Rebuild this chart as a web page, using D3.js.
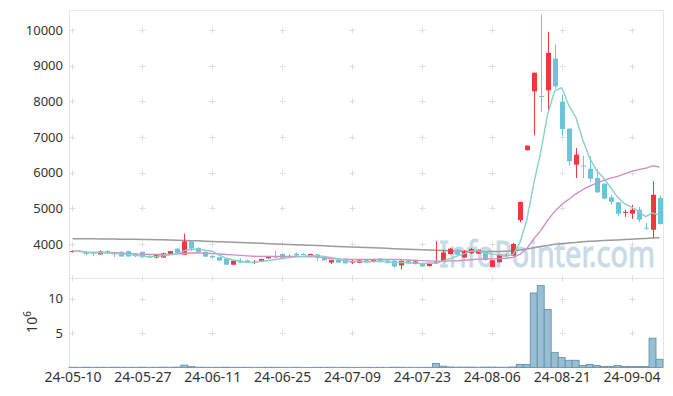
<!DOCTYPE html>
<html>
<meta charset="utf-8">
<style>
body { margin: 0; background: #fff; }
svg { display: block; font-family: "Noto Sans", sans-serif; }
.frame { fill: none; stroke: #e6e6e6; stroke-width: 1; }
.cross { stroke: #dedede; stroke-width: 1; }
.ma { fill: none; stroke-linejoin: round; }
</style>
<body>
<svg width="673" height="396"></svg>
<script src="https://cdn.jsdelivr.net/npm/d3@7"></script>
<script>

// trading days shown on the chart
var dates = [
  "24-05-10","24-05-13","24-05-14","24-05-16","24-05-17","24-05-20","24-05-21","24-05-22","24-05-23","24-05-24",
  "24-05-27","24-05-28","24-05-29","24-05-30","24-05-31","24-06-03","24-06-04","24-06-05","24-06-07","24-06-10",
  "24-06-11","24-06-12","24-06-13","24-06-14","24-06-17","24-06-18","24-06-19","24-06-20","24-06-21","24-06-24",
  "24-06-25","24-06-26","24-06-27","24-06-28","24-07-01","24-07-02","24-07-03","24-07-04","24-07-05","24-07-08",
  "24-07-09","24-07-10","24-07-11","24-07-12","24-07-15","24-07-16","24-07-17","24-07-18","24-07-19","24-07-22",
  "24-07-23","24-07-24","24-07-25","24-07-26","24-07-29","24-07-30","24-07-31","24-08-01","24-08-02","24-08-05",
  "24-08-06","24-08-07","24-08-08","24-08-09","24-08-12","24-08-13","24-08-14","24-08-16","24-08-19","24-08-20",
  "24-08-21","24-08-22","24-08-23","24-08-26","24-08-27","24-08-28","24-08-29","24-08-30","24-09-02","24-09-03",
  "24-09-04","24-09-05","24-09-06","24-09-09","24-09-10"
];

var open = [
  3790,3810,3780,3760,3710,3800,3770,3780,3800,3720,
  3780,3660,3620,3620,3710,3870,3700,4075,3890,3780,
  3660,3630,3590,3420,3535,3540,3490,3500,3600,3660,
  3720,3640,3730,3720,3680,3710,3630,3480,3550,3540,
  3495,3470,3550,3500,3580,3540,3530,3400,3530,3440,
  3470,3380,3480,3510,3720,3840,3620,3740,3730,3790,
  3355,3490,3670,3670,4670,6630,8280,8150,8310,9200,
  7980,7235,6225,6200,6110,5850,5690,5310,5170,4880,
  4850,4960,4460,4400,5290
];
var high = [
  3830,3830,3800,3780,3820,3830,3790,3800,3810,3740,
  3790,3680,3720,3760,3810,3880,4290,4090,3910,3790,
  3690,3640,3600,3540,3600,3560,3550,3590,3660,3800,
  3740,3700,3760,3740,3730,3720,3640,3560,3560,3550,
  3560,3550,3560,3560,3600,3560,3540,3540,3540,3520,
  3480,3480,4080,3830,3890,3860,3830,3890,3850,3800,
  3560,3710,3720,4030,5190,6760,8810,10430,9950,9590,
  8190,7240,6690,6480,6460,6100,5700,5380,5170,4960,
  5100,5040,4590,5760,5360
];
var low = [
  3760,3780,3680,3660,3700,3730,3630,3650,3650,3630,
  3600,3610,3600,3610,3700,3740,3700,3800,3760,3640,
  3590,3530,3420,3410,3470,3470,3440,3490,3590,3610,
  3580,3600,3670,3690,3670,3530,3530,3440,3470,3450,
  3440,3460,3480,3490,3490,3460,3330,3290,3450,3430,
  3360,3370,3440,3500,3700,3680,3610,3720,3720,3530,
  3340,3480,3640,3660,4610,6620,7050,7700,7720,8350,
  7050,6200,5850,5850,5730,5430,5260,5100,4780,4760,
  4700,4610,4400,4170,4540
];
var close = [
  3800,3790,3720,3730,3790,3740,3710,3650,3650,3660,
  3630,3620,3710,3740,3800,3750,4075,3870,3780,3645,
  3620,3535,3420,3535,3480,3480,3500,3580,3650,3620,
  3590,3655,3680,3700,3720,3620,3540,3550,3480,3460,
  3505,3540,3490,3550,3500,3470,3370,3530,3460,3510,
  3370,3470,3490,3760,3870,3700,3790,3860,3840,3550,
  3545,3700,3690,4000,5180,6760,8800,8130,9360,8420,
  7225,6320,6505,6190,5830,5450,5270,5180,4850,4900,
  4960,4680,4440,5380,4560
];

// long moving average (grey line)
var maLong = [
  4150,4148,4146,4144,4142,4140,4138,4135,4132,4130,
  4127,4124,4120,4116,4112,4106,4100,4094,4088,4080,
  4072,4064,4056,4048,4040,4032,4025,4018,4010,4002,
  3995,3988,3980,3972,3964,3956,3948,3940,3932,3924,
  3916,3908,3900,3892,3885,3878,3870,3862,3855,3848,
  3840,3832,3825,3818,3812,3806,3800,3796,3792,3790,
  3790,3792,3798,3808,3830,3860,3895,3930,3960,3990,
  4010,4030,4045,4060,4075,4085,4095,4105,4115,4125,
  4135,4145,4155,4165,4175
];

// volume in millions of shares
var volume = [
  0.04,0.03,0.05,0.03,0.04,0.03,0.05,0.04,0.03,0.03,
  0.05,0.03,0.04,0.05,0.04,0.06,0.35,0.12,0.05,0.04,
  0.03,0.04,0.05,0.03,0.03,0.03,0.02,0.03,0.04,0.03,
  0.03,0.02,0.03,0.02,0.02,0.03,0.03,0.04,0.02,0.03,
  0.02,0.02,0.03,0.02,0.03,0.02,0.05,0.04,0.03,0.02,
  0.03,0.03,0.60,0.20,0.08,0.05,0.05,0.06,0.04,0.06,
  0.06,0.05,0.04,0.08,0.45,0.45,10.8,11.9,8.4,2.2,
  1.45,1.05,1.05,0.30,0.45,0.30,0.15,0.15,0.30,0.15,
  0.15,0.15,0.15,4.25,1.2
];

var priceTicks = [4000, 5000, 6000, 7000, 8000, 9000, 10000];
var volTicks = [5, 10];
var dateTickIdx = [0, 10, 20, 30, 40, 50, 60, 70, 80];

var svg = d3.select("svg");
var pLeft = 69, pRight = 663, pTop = 10, pSplit = 278, pBottom = 367.5;

var x = d3.scaleLinear().domain([-0.5, dates.length - 0.5]).range([pLeft, pRight]);
var y = d3.scaleLinear().domain([4000, 10000]).range([244, 30]);
var yv = d3.scaleLinear().domain([0, 10]).range([pBottom, 298.5]);

function movingAvg(vals, n) {
  return vals.map(function(v, i) { return d3.mean(vals.slice(Math.max(0, i - n + 1), i + 1)); });
}
var ma5 = movingAvg(close, 5);
var ma20 = movingAvg(close, 20);

svg.append("clipPath").attr("id", "clipTop")
  .append("rect").attr("x", pLeft).attr("y", pTop).attr("width", pRight - pLeft).attr("height", pSplit - pTop);

// grid crosses
var crossY = priceTicks.map(y).concat([pSplit], volTicks.map(yv));
var grid = svg.append("g");
dateTickIdx.forEach(function(i) {
  crossY.forEach(function(cy) {
    var cx = Math.round(x(i)) + 0.5;
    cy = Math.round(cy) + 0.5;
    grid.append("line").attr("class", "cross").attr("x1", cx - 3).attr("x2", cx + 3).attr("y1", cy).attr("y2", cy);
    grid.append("line").attr("class", "cross").attr("x1", cx).attr("x2", cx).attr("y1", cy - 3).attr("y2", cy + 3);
  });
});

// frames
svg.append("path").attr("class", "frame")
  .attr("d", "M" + (pLeft + 0.5) + "," + pBottom + "V" + (pTop + 0.5) + "H" + (pRight + 0.5) + "V" + pBottom);
svg.append("line").attr("class", "frame")
  .attr("x1", pLeft).attr("x2", pRight + 1).attr("y1", pSplit + 0.5).attr("y2", pSplit + 0.5);

// watermark
svg.append("text")
  .attr("x", 439).attr("y", 267)
  .attr("textLength", 216).attr("lengthAdjust", "spacingAndGlyphs")
  .attr("font-size", 37).attr("fill", "#c8dae6")
  .attr("stroke", "#c8dae6").attr("stroke-width", 0.9)
  .text("InfoPointer.com");

var plot = svg.append("g").attr("clip-path", "url(#clipTop)");

var line = function(vals) {
  return d3.line().x(function(d, i) { return x(i); }).y(function(d) { return y(d); })(vals);
};

plot.append("path").attr("class", "ma").attr("d", line(maLong)).attr("stroke", "#9b9b9b").attr("stroke-width", 1.5);

var upColor = "#f0373d", downColor = "#6cc4da";
var candles = plot.selectAll("g.candle").data(dates).enter().append("g")
  .attr("fill", function(d, i) { return close[i] >= open[i] ? upColor : downColor; })
  .attr("stroke", function(d, i) { return close[i] >= open[i] ? upColor : downColor; });
candles.append("line")
  .attr("x1", function(d, i) { return Math.round(x(i)) + 0.5; })
  .attr("x2", function(d, i) { return Math.round(x(i)) + 0.5; })
  .attr("y1", function(d, i) { return y(high[i]); })
  .attr("y2", function(d, i) { return y(low[i]); })
  .attr("stroke-width", 1);
candles.append("rect")
  .attr("stroke", "none")
  .attr("x", function(d, i) { return Math.round(x(i)) - 2; })
  .attr("width", 5)
  .attr("y", function(d, i) { return y(Math.max(open[i], close[i])); })
  .attr("height", function(d, i) { return Math.max(1, Math.abs(y(open[i]) - y(close[i]))); });

plot.append("path").attr("class", "ma").attr("d", line(ma20)).attr("stroke", "#cf8ec8").attr("stroke-width", 1.4);
plot.append("path").attr("class", "ma").attr("d", line(ma5)).attr("stroke", "#8ccfc5").attr("stroke-width", 1.4);

// volume bars
svg.append("g").selectAll("rect").data(volume).enter().append("rect")
  .attr("x", function(d, i) { return x(i - 0.5); })
  .attr("width", x(1) - x(0))
  .attr("y", function(d) { return yv(d); })
  .attr("height", function(d) { return pBottom - yv(d); })
  .attr("fill", "#98bfd1")
  .attr("stroke", "#5d8ca7")
  .attr("stroke-width", 0.8);

// axes
var axisFont = function(g, size) {
  g.select(".domain").remove();
  g.selectAll("text").attr("font-family", "Noto Sans, sans-serif").attr("font-size", size).attr("fill", "#333");
};
svg.append("g").attr("transform", "translate(" + pLeft + ",0)")
  .call(d3.axisLeft(y).tickValues(priceTicks).tickFormat(d3.format("d")).tickSize(0).tickPadding(6))
  .call(axisFont, 13);
svg.append("g").attr("transform", "translate(" + pLeft + ",0)")
  .call(d3.axisLeft(yv).tickValues(volTicks).tickFormat(d3.format("d")).tickSize(0).tickPadding(6))
  .call(axisFont, 13);
svg.append("g").attr("transform", "translate(0," + pBottom + ")")
  .call(d3.axisBottom(x).tickValues(dateTickIdx).tickFormat(function(i) { return dates[i]; }).tickSize(0).tickPadding(5))
  .call(axisFont, 14);

var vt = svg.append("text")
  .attr("transform", "translate(37,322) rotate(-90)")
  .attr("text-anchor", "middle")
  .attr("font-size", 14).attr("fill", "#333")
  .text("10");
vt.append("tspan").attr("dy", -6).attr("font-size", 10).text("6");

</script>
</body>
</html>
